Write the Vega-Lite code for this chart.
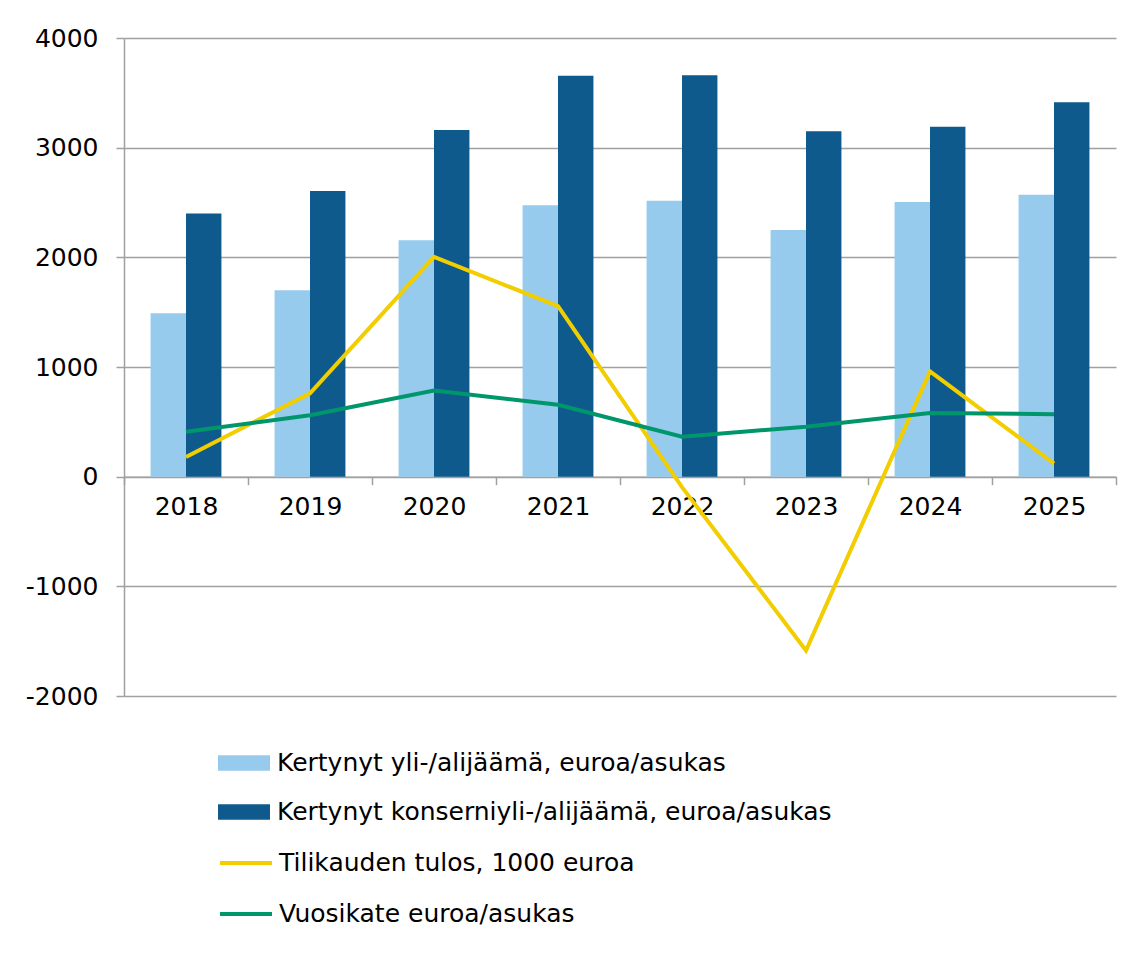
{
  "$schema": "https://vega.github.io/schema/vega-lite/v6.json",
  "width": 992,
  "height": 658,
  "autosize": {"type": "none"},
  "padding": {"left": 124, "top": 38, "right": 18, "bottom": 269},
  "background": "white",
  "config": {"view": {"stroke": null}, "font": "DejaVu Sans"},
  "datasets": {
    "bars": [
      {"year": "2018", "series": "Kertynyt yli-/alijäämä, euroa/asukas", "value": 1490},
      {"year": "2019", "series": "Kertynyt yli-/alijäämä, euroa/asukas", "value": 1700},
      {"year": "2020", "series": "Kertynyt yli-/alijäämä, euroa/asukas", "value": 2155},
      {"year": "2021", "series": "Kertynyt yli-/alijäämä, euroa/asukas", "value": 2475},
      {"year": "2022", "series": "Kertynyt yli-/alijäämä, euroa/asukas", "value": 2515},
      {"year": "2023", "series": "Kertynyt yli-/alijäämä, euroa/asukas", "value": 2250},
      {"year": "2024", "series": "Kertynyt yli-/alijäämä, euroa/asukas", "value": 2505},
      {"year": "2025", "series": "Kertynyt yli-/alijäämä, euroa/asukas", "value": 2570},
      {"year": "2018", "series": "Kertynyt konserniyli-/alijäämä, euroa/asukas", "value": 2400},
      {"year": "2019", "series": "Kertynyt konserniyli-/alijäämä, euroa/asukas", "value": 2605},
      {"year": "2020", "series": "Kertynyt konserniyli-/alijäämä, euroa/asukas", "value": 3160},
      {"year": "2021", "series": "Kertynyt konserniyli-/alijäämä, euroa/asukas", "value": 3655},
      {"year": "2022", "series": "Kertynyt konserniyli-/alijäämä, euroa/asukas", "value": 3660},
      {"year": "2023", "series": "Kertynyt konserniyli-/alijäämä, euroa/asukas", "value": 3150},
      {"year": "2024", "series": "Kertynyt konserniyli-/alijäämä, euroa/asukas", "value": 3190},
      {"year": "2025", "series": "Kertynyt konserniyli-/alijäämä, euroa/asukas", "value": 3415}
    ],
    "lines": [
      {"year": "2018", "series": "Tilikauden tulos, 1000 euroa", "value": 180},
      {"year": "2019", "series": "Tilikauden tulos, 1000 euroa", "value": 760},
      {"year": "2020", "series": "Tilikauden tulos, 1000 euroa", "value": 2005},
      {"year": "2021", "series": "Tilikauden tulos, 1000 euroa", "value": 1555},
      {"year": "2022", "series": "Tilikauden tulos, 1000 euroa", "value": -95},
      {"year": "2023", "series": "Tilikauden tulos, 1000 euroa", "value": -1585},
      {"year": "2024", "series": "Tilikauden tulos, 1000 euroa", "value": 960},
      {"year": "2025", "series": "Tilikauden tulos, 1000 euroa", "value": 120},
      {"year": "2018", "series": "Vuosikate euroa/asukas", "value": 410},
      {"year": "2019", "series": "Vuosikate euroa/asukas", "value": 560},
      {"year": "2020", "series": "Vuosikate euroa/asukas", "value": 785},
      {"year": "2021", "series": "Vuosikate euroa/asukas", "value": 655},
      {"year": "2022", "series": "Vuosikate euroa/asukas", "value": 365},
      {"year": "2023", "series": "Vuosikate euroa/asukas", "value": 455},
      {"year": "2024", "series": "Vuosikate euroa/asukas", "value": 580},
      {"year": "2025", "series": "Vuosikate euroa/asukas", "value": 570}
    ]
  },
  "layer": [
    {
      "data": {"name": "bars"},
      "mark": {"type": "bar"},
      "encoding": {
        "x": {
          "field": "year",
          "type": "nominal",
          "scale": {"paddingInner": 0, "paddingOuter": 0},
          "axis": {
            "title": null,
            "orient": "bottom",
            "offset": -219.33,
            "labelAngle": 0,
            "domainColor": "#a0a0a0",
            "domainWidth": 1.5,
            "tickBand": "extent",
            "tickSize": 8,
            "tickColor": "#a0a0a0",
            "tickWidth": 1.5,
            "labelFontSize": 25,
            "labelColor": "#000000",
            "labelPadding": 10,
            "grid": false
          }
        },
        "xOffset": {
          "field": "series",
          "type": "nominal",
          "sort": ["Kertynyt yli-/alijäämä, euroa/asukas", "Kertynyt konserniyli-/alijäämä, euroa/asukas"],
          "scale": {"paddingInner": 0, "paddingOuter": 0.75}
        },
        "y": {
          "field": "value",
          "type": "quantitative",
          "scale": {"domain": [-2000, 4000], "nice": false, "zero": false},
          "axis": {
            "title": null,
            "values": [-2000, -1000, 0, 1000, 2000, 3000, 4000],
            "labelExpr": "'' + datum.value",
            "grid": true,
            "gridColor": "#a0a0a0",
            "gridWidth": 1.5,
            "domainColor": "#a0a0a0",
            "domainWidth": 1.5,
            "tickColor": "#a0a0a0",
            "tickWidth": 1.5,
            "tickSize": 8,
            "labelPadding": 18,
            "labelFontSize": 25,
            "labelColor": "#000000"
          }
        },
        "fill": {
          "field": "series",
          "type": "nominal",
          "scale": {
            "domain": ["Kertynyt yli-/alijäämä, euroa/asukas", "Kertynyt konserniyli-/alijäämä, euroa/asukas"],
            "range": ["#96CBEE", "#0E5A8C"]
          },
          "legend": {
            "orient": "none",
            "legendX": 107,
            "legendY": 712,
            "padding": 0,
            "title": null,
            "symbolType": "M-2,-0.6H2V0.6H-2Z",
            "symbolSize": 676,
            "symbolStrokeWidth": 0,
            "symbolOpacity": 1,
            "labelFontSize": 25,
            "labelColor": "#000000",
            "labelOffset": 20,
            "labelLimit": 800,
            "rowPadding": 23
          }
        }
      }
    },
    {
      "data": {"name": "lines"},
      "mark": {"type": "line", "strokeWidth": 4},
      "encoding": {
        "x": {"field": "year", "type": "nominal"},
        "y": {"field": "value", "type": "quantitative"},
        "stroke": {
          "field": "series",
          "type": "nominal",
          "scale": {
            "domain": ["Tilikauden tulos, 1000 euroa", "Vuosikate euroa/asukas"],
            "range": ["#F2CD00", "#00966B"]
          },
          "legend": {
            "orient": "none",
            "legendX": 107,
            "legendY": 810,
            "padding": 0,
            "title": null,
            "symbolType": "M-2,0H2",
            "symbolSize": 676,
            "symbolStrokeWidth": 4,
            "labelFontSize": 25,
            "labelColor": "#000000",
            "labelOffset": 18,
            "labelLimit": 800,
            "rowPadding": 23
          }
        }
      }
    }
  ]
}
